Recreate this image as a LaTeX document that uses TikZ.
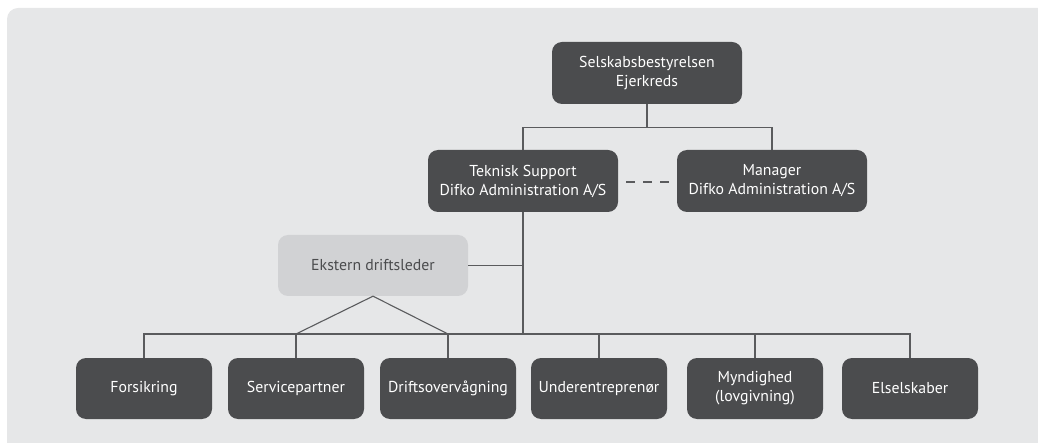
\documentclass[tikz,border=0pt]{standalone}
\usepackage{fontspec}
\setmainfont{PT Sans}
\usetikzlibrary{calc,positioning}

\definecolor{panelgray}{HTML}{E6E7E8}
\definecolor{boxdark}{HTML}{4B4C4E}
\definecolor{boxlight}{HTML}{D1D2D4}
\definecolor{linegray}{HTML}{5A5B5D}

\begin{document}
\begin{tikzpicture}[
  x=1pt,y=-1pt,
  font=\fontsize{15.8}{19}\selectfont,
  org_box/.style={rectangle,rounded corners=10pt,inner sep=0pt,minimum width=190pt,minimum height=62pt,fill=boxdark,text=white,align=center},
  unit_box/.style={org_box,minimum width=136pt,minimum height=61pt},
  extern_box/.style={org_box,fill=boxlight,text=boxdark},
  link/.style={draw=linegray,line width=1.1pt}
  ]
  \useasboundingbox (0,0) rectangle (1038,443);
  \fill[panelgray,rounded corners=11pt] (7,8) rectangle (1060,460);

%top
  \node (board) [org_box] at(647,73) {Selskabsbestyrelsen\\Ejerkreds};

%middle
  \node (support) [org_box] at(523,181) {Teknisk Support\\Difko Administration A/S};
  \node (manager) [org_box] at(772,181) {Manager\\Difko Administration A/S};
  \node (extern) [extern_box,minimum height=61pt] at(373,265.5) {Ekstern driftsleder};

%bottom
  \node (insurance) [unit_box] at(144,388.5) {Forsikring};
  \node (servicep) [unit_box] at(296,388.5) {Servicepartner};
  \node (monitoring) [unit_box] at(448,388.5) {Driftsovervågning};
  \node (subcontr) [unit_box] at(599,388.5) {Underentreprenør};
  \node (authority) [unit_box] at(755,388.5) {Myndighed\\(lovgivning)};
  \node (utility) [unit_box] at(910,388.5) {Elselskaber};

  \coordinate (top_bus) at($(board.south)+(0,23)$);
  \coordinate (low_bus) at(523,334);

  \draw[link] (board.south) -- (top_bus);
  \draw[link] (support.north) |- (top_bus) -| (manager.north);
  \draw[link,dash pattern=on 9pt off 8pt] ($(support.east)+(8,1)$) -- ($(manager.west)+(-8,1)$);

  \draw[link] (support.south) -- (low_bus);
  \draw[link] (extern.east) -- (extern.east -| low_bus);
  \draw[link] (insurance.north) |- (low_bus) -| (utility.north);
  \foreach \u in {servicep,monitoring,subcontr,authority}
    \draw[link] (\u.north) -- (\u.north |- low_bus);

  \draw[link] (servicep.north |- low_bus) -- (extern.south) -- (monitoring.north |- low_bus);

\end{tikzpicture}
\end{document}
